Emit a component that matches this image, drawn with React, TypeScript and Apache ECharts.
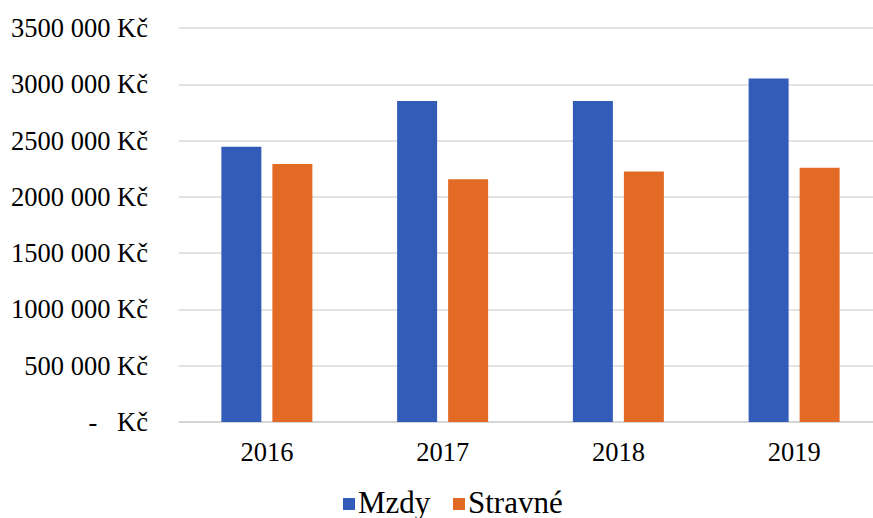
import React, { useEffect, useRef } from "react";
import * as echarts from "echarts";

// Yearly costs in CZK
const years = ["2016", "2017", "2018", "2019"];
const mzdy = [2446000, 2852000, 2852000, 3051000];
const stravne = [2292000, 2157000, 2226000, 2259000];
const seriesNames = ["Mzdy", "Stravné"];
const seriesColors = ["#335cb8", "#e36a25"];
const yMax = 3500000;
const yStep = 500000;

// Accounting-style label: "3500 000 Kč", zero shown as a dash
function formatKc(v: number): string {
  if (v === 0) return "-   Kč";
  const thousands = Math.floor(v / 1000);
  const rest = String(v % 1000).padStart(3, "0");
  return `${thousands} ${rest} Kč`;
}

const font = "Liberation Serif";

// Serif legend drawn as swatch + label pairs below the axis
function legendGraphic() {
  const slots = [0, 110];
  return {
    type: "group",
    x: 343,
    y: 498,
    children: seriesNames.flatMap((name, i) => [
      {
        type: "rect",
        shape: { x: slots[i], y: 0, width: 12, height: 12 },
        style: { fill: seriesColors[i] },
      },
      {
        type: "text",
        x: slots[i] + 15,
        y: 4,
        style: {
          text: name,
          font: `31px ${font}`,
          fill: "#000",
          textVerticalAlign: "middle",
          verticalAlign: "middle",
        },
      },
    ]),
  };
}

export default function App() {
  const ref = useRef<HTMLDivElement>(null);

  useEffect(() => {
    if (!ref.current) return;
    const chart = echarts.init(ref.current, undefined, { renderer: "svg" });
    chart.setOption({
      animation: false,
      backgroundColor: "#ffffff",
      textStyle: { fontFamily: font },
      grid: {
        left: 179,
        right: -9,
        top: 28,
        bottom: 96,
        containLabel: false,
        outerBoundsMode: "none",
      },
      graphic: [legendGraphic()],
      xAxis: {
        type: "category",
        data: years,
        axisLine: { lineStyle: { color: "#d0d0d0", width: 1.5 } },
        axisTick: { show: false },
        axisLabel: { fontFamily: font, fontSize: 26.5, color: "#000", margin: 16 },
      },
      yAxis: {
        type: "value",
        min: 0,
        max: yMax,
        interval: yStep,
        axisLine: { show: false },
        axisTick: { show: false },
        splitLine: { lineStyle: { color: "#d9d9d9", width: 1.5 } },
        axisLabel: {
          fontFamily: font,
          fontSize: 26.5,
          color: "#000",
          margin: 31,
          formatter: (v: number) => formatKc(v),
        },
      },
      series: [
        {
          name: seriesNames[0],
          type: "bar",
          data: mzdy,
          barWidth: 40,
          barGap: "27.5%",
          itemStyle: { color: seriesColors[0] },
        },
        {
          name: seriesNames[1],
          type: "bar",
          data: stravne,
          barWidth: 40,
          itemStyle: { color: seriesColors[1] },
        },
      ],
    });
    return () => chart.dispose();
  }, []);

  return (
    <div
      ref={ref}
      style={{ position: "fixed", left: 0, top: 0, width: 873, height: 518 }}
    />
  );
}
